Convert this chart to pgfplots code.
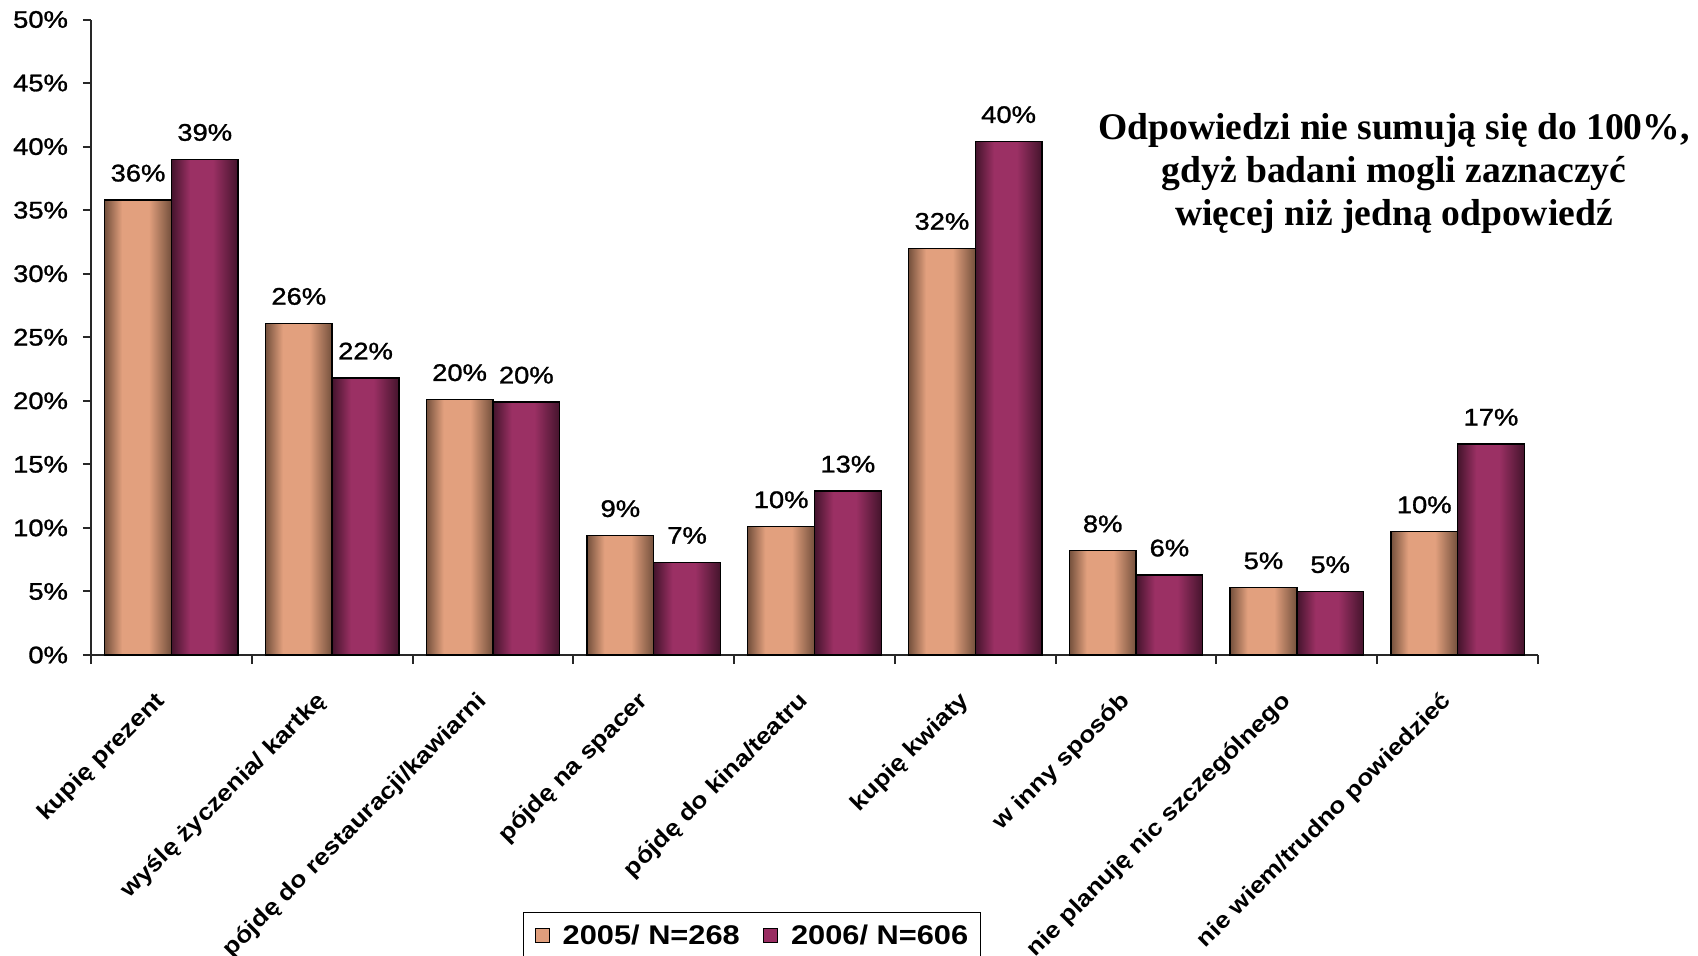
\documentclass[border=0pt]{standalone}
\usepackage{fontspec}
\setmainfont{Liberation Sans}[FakeStretch=1.14]
\newfontfamily\medfont{Liberation Sans}[FakeStretch=1.14, FakeBold=1.2]
\newfontfamily\notefont{Liberation Serif}
\usepackage{pgfplots}
\pgfplotsset{compat=1.18}

\definecolor{odark}{RGB}{116,80,60}
\definecolor{olight}{RGB}{226,160,126}
\definecolor{pdark}{RGB}{68,20,44}
\definecolor{plight}{RGB}{155,48,100}
\definecolor{oflat}{RGB}{224,158,124}
\definecolor{pflat}{RGB}{153,45,98}
\definecolor{axisgray}{RGB}{40,40,40}

% cylindrical look of the bars: dark edges, light centre
\pgfdeclarehorizontalshading{orangebar}{100bp}{color(0bp)=(odark); color(25bp)=(odark); color(38bp)=(olight); color(58bp)=(olight); color(75bp)=(odark); color(100bp)=(odark)}
\pgfdeclarehorizontalshading{purplebar}{100bp}{color(0bp)=(pdark); color(25bp)=(pdark); color(39bp)=(plight); color(56bp)=(plight); color(75bp)=(pdark); color(100bp)=(pdark)}

\pgfplotsset{
  valuelabel/.style={
    nodes near coords={\pgfmathprintnumber[fixed,precision=0]{\pgfplotspointmeta}\%},
    every node near coord/.append style={font=\medfont\fontsize{12}{14}\selectfont, text=black, anchor=south, yshift=5.5pt}},
  bar05/.style={ybar, bar width=0.415, bar shift=-0.2075, draw=black, line width=0.7pt,
    shade, shading=orangebar, forget plot, valuelabel,
    every node near coord/.append style={xshift=-16.68pt}},
  bar06/.style={ybar, bar width=0.415, bar shift=0.2075, draw=black, line width=0.7pt,
    shade, shading=purplebar, forget plot, valuelabel,
    every node near coord/.append style={xshift=16.68pt}},
}
% one category: index, share in 2005, share in 2006 (percent)
\newcommand\pairbars[3]{%
  \addplot[bar05] coordinates {(#1,#2)};
  \addplot[bar06] coordinates {(#1,#3)};
}

\begin{document}
\begin{tikzpicture}
\useasboundingbox (-45.5pt,-150pt) rectangle (803.5pt,327.5pt);
\clip (-45.5pt,-150pt) rectangle (803.5pt,327.5pt);
\begin{axis}[
  at={(0,0)}, anchor=south west,
  scale only axis, width=723.5pt, height=317.75pt,
  xmin=-0.5, xmax=8.5, ymin=0, ymax=50,
  axis x line*=bottom, axis y line*=left,
  axis line style={line width=1pt, color=axisgray},
  ytick={0,5,...,50},
  yticklabel={\pgfmathprintnumber{\tick}\%},
  /pgf/number format/assume math mode=true,
  xtick={0,...,8},
  xticklabels={kupię prezent, wyślę życzenia/ kartkę, pójdę do restauracji/kawiarni, pójdę na spacer, pójdę do kina/teatru, kupię kwiaty, w inny sposób, nie planuję nic szczególnego, nie wiem/trudno powiedzieć},
  minor xtick={-0.5,0.5,...,8.5},
  tick align=outside,
  major tick length=4pt, minor tick length=4.5pt,
  major x tick style={draw=none},
  minor x tick style={line width=1pt, color=axisgray},
  ytick style={line width=1pt, color=axisgray},
  yticklabel style={font=\medfont\fontsize{12}{14}\selectfont, xshift=-4pt},
  xticklabel style={font=\fontsize{11.5}{13}\selectfont\bfseries, xshift=-8.7pt, yshift=-8.6pt, rotate=45, anchor=north east},
  legend image code/.code={\draw[#1, draw=black, line width=0.6pt] (1.5pt,-3.5pt) rectangle (8.5pt,3.5pt); \path (0pt,0pt) (13pt,0pt);},
  legend columns=2,
  legend style={at={(0.2985,-0.4044)}, anchor=north west, draw=black, line width=0.6pt,
    font=\fontsize{13.5}{15}\selectfont\bfseries, inner xsep=4pt, inner ysep=4pt,
    /tikz/every even column/.append style={column sep=8pt}},
]
\pairbars{0}{35.8}{39.0}
\pairbars{1}{26.1}{21.8}
\pairbars{2}{20.1}{19.9}
\pairbars{3}{9.4}{7.3}
\pairbars{4}{10.1}{12.9}
\pairbars{5}{32.0}{40.4}
\pairbars{6}{8.2}{6.3}
\pairbars{7}{5.3}{5.0}
\pairbars{8}{9.7}{16.6}
\addlegendimage{fill=oflat}
\addlegendentry{2005/ N=268}
\addlegendimage{fill=pflat}
\addlegendentry{2006/ N=606}
\end{axis}
\node[align=center, font=\notefont\fontsize{18.8}{21.5}\selectfont\bfseries] at (651.5pt,241pt)
  {Odpowiedzi nie sumują się do 100\%,\\ gdyż badani mogli zaznaczyć\\ więcej niż jedną odpowiedź};
\end{tikzpicture}
\end{document}
